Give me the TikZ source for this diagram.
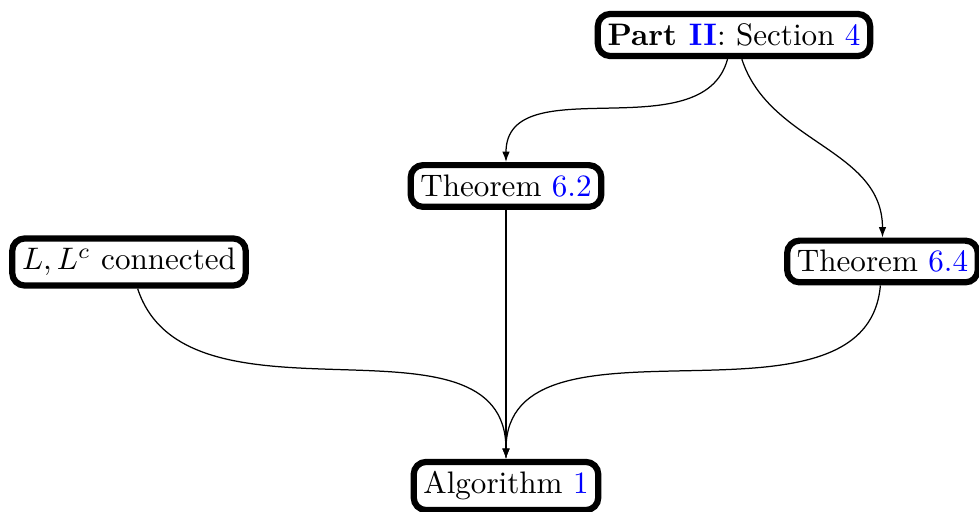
\documentclass[tikz,border=0pt]{standalone}
\usetikzlibrary{arrows.meta}
\begin{document}
\begin{tikzpicture}[x=0.3215pt,y=0.3215pt]
\tikzset{
  box/.style={draw, line width=2pt, rounded corners=4pt, inner sep=3.13pt, fill=white},
  conn/.style={-{Latex[length=3.3pt,width=2.4pt]}, line width=0.4pt}
}
\useasboundingbox (0,0) rectangle (979,-512);
\node[box] (part) at (734,-35) {\textbf{Part \textcolor{blue}{II}}: Section \textcolor{blue}{4}};
\node[box] (t62) at (506,-186) {Theorem \textcolor{blue}{6.2}};
\node[box] (lc) at (129,-262) {$L, L^c$ connected};
\node[box] (t64) at (882.5,-261.5) {Theorem \textcolor{blue}{6.4}};
\node[box] (alg) at (506,-486) {Algorithm \textcolor{blue}{1}};
\draw[conn] (part) to[out=-105,in=90] (t62);
\draw[conn] (part) to[out=-72,in=90] (t64);
\draw[conn] (t62) -- (alg);
\draw[conn] (lc) to[out=-72,in=90] (alg);
\draw[conn] (t64) to[out=-95,in=90] (alg);
\end{tikzpicture}
\end{document}
